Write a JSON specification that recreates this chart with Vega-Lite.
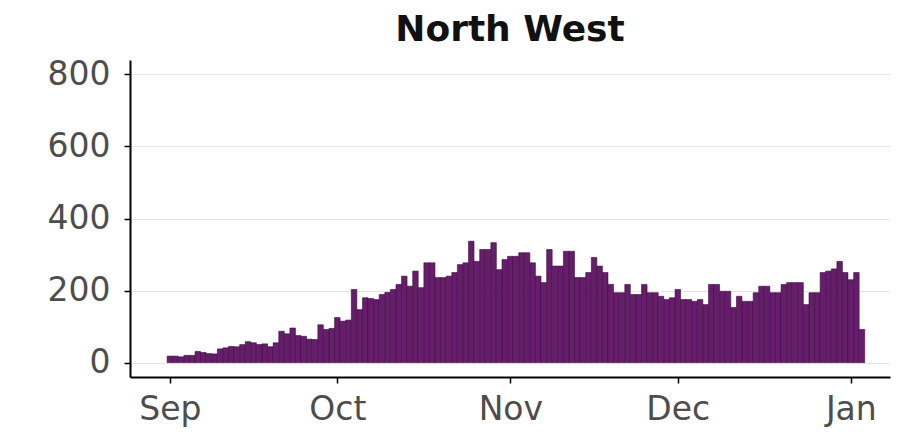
{
  "$schema": "https://vega.github.io/schema/vega-lite/v6.json",
  "width": 760,
  "height": 317,
  "autosize": "none",
  "padding": {"left": 130, "top": 60, "right": 18, "bottom": 57},
  "background": "white",
  "title": {"text": "North West", "font": "DejaVu Sans", "fontSize": 36, "fontWeight": "bold", "color": "#111111", "anchor": "middle", "offset": 9},
  "config": {"view": {"stroke": null}},
  "data": {"values": [
    {"date": "2020-09-01", "cases": 18}, {"date": "2020-09-02", "cases": 18}, {"date": "2020-09-03", "cases": 16}, {"date": "2020-09-04", "cases": 20}, {"date": "2020-09-05", "cases": 20},
    {"date": "2020-09-06", "cases": 31}, {"date": "2020-09-07", "cases": 28}, {"date": "2020-09-08", "cases": 25}, {"date": "2020-09-09", "cases": 24}, {"date": "2020-09-10", "cases": 38},
    {"date": "2020-09-11", "cases": 41}, {"date": "2020-09-12", "cases": 45}, {"date": "2020-09-13", "cases": 44}, {"date": "2020-09-14", "cases": 50}, {"date": "2020-09-15", "cases": 58},
    {"date": "2020-09-16", "cases": 55}, {"date": "2020-09-17", "cases": 50}, {"date": "2020-09-18", "cases": 52}, {"date": "2020-09-19", "cases": 44}, {"date": "2020-09-20", "cases": 55},
    {"date": "2020-09-21", "cases": 87}, {"date": "2020-09-22", "cases": 80}, {"date": "2020-09-23", "cases": 96}, {"date": "2020-09-24", "cases": 75}, {"date": "2020-09-25", "cases": 73},
    {"date": "2020-09-26", "cases": 65}, {"date": "2020-09-27", "cases": 64}, {"date": "2020-09-28", "cases": 105}, {"date": "2020-09-29", "cases": 92}, {"date": "2020-09-30", "cases": 95},
    {"date": "2020-10-01", "cases": 125}, {"date": "2020-10-02", "cases": 115}, {"date": "2020-10-03", "cases": 118}, {"date": "2020-10-04", "cases": 203}, {"date": "2020-10-05", "cases": 147},
    {"date": "2020-10-06", "cases": 180}, {"date": "2020-10-07", "cases": 178}, {"date": "2020-10-08", "cases": 175}, {"date": "2020-10-09", "cases": 189}, {"date": "2020-10-10", "cases": 195},
    {"date": "2020-10-11", "cases": 203}, {"date": "2020-10-12", "cases": 217}, {"date": "2020-10-13", "cases": 240}, {"date": "2020-10-14", "cases": 212}, {"date": "2020-10-15", "cases": 254},
    {"date": "2020-10-16", "cases": 208}, {"date": "2020-10-17", "cases": 277}, {"date": "2020-10-18", "cases": 277}, {"date": "2020-10-19", "cases": 236}, {"date": "2020-10-20", "cases": 236},
    {"date": "2020-10-21", "cases": 240}, {"date": "2020-10-22", "cases": 250}, {"date": "2020-10-23", "cases": 272}, {"date": "2020-10-24", "cases": 277}, {"date": "2020-10-25", "cases": 337},
    {"date": "2020-10-26", "cases": 281}, {"date": "2020-10-27", "cases": 314}, {"date": "2020-10-28", "cases": 314}, {"date": "2020-10-29", "cases": 333}, {"date": "2020-10-30", "cases": 258},
    {"date": "2020-10-31", "cases": 286}, {"date": "2020-11-01", "cases": 295}, {"date": "2020-11-02", "cases": 295}, {"date": "2020-11-03", "cases": 305}, {"date": "2020-11-04", "cases": 305},
    {"date": "2020-11-05", "cases": 277}, {"date": "2020-11-06", "cases": 240}, {"date": "2020-11-07", "cases": 222}, {"date": "2020-11-08", "cases": 314}, {"date": "2020-11-09", "cases": 268},
    {"date": "2020-11-10", "cases": 268}, {"date": "2020-11-11", "cases": 309}, {"date": "2020-11-12", "cases": 309}, {"date": "2020-11-13", "cases": 236}, {"date": "2020-11-14", "cases": 236},
    {"date": "2020-11-15", "cases": 250}, {"date": "2020-11-16", "cases": 292}, {"date": "2020-11-17", "cases": 268}, {"date": "2020-11-18", "cases": 250}, {"date": "2020-11-19", "cases": 217},
    {"date": "2020-11-20", "cases": 194}, {"date": "2020-11-21", "cases": 194}, {"date": "2020-11-22", "cases": 217}, {"date": "2020-11-23", "cases": 189}, {"date": "2020-11-24", "cases": 189},
    {"date": "2020-11-25", "cases": 217}, {"date": "2020-11-26", "cases": 194}, {"date": "2020-11-27", "cases": 194}, {"date": "2020-11-28", "cases": 184}, {"date": "2020-11-29", "cases": 175},
    {"date": "2020-11-30", "cases": 180}, {"date": "2020-12-01", "cases": 203}, {"date": "2020-12-02", "cases": 175}, {"date": "2020-12-03", "cases": 175}, {"date": "2020-12-04", "cases": 170},
    {"date": "2020-12-05", "cases": 175}, {"date": "2020-12-06", "cases": 161}, {"date": "2020-12-07", "cases": 217}, {"date": "2020-12-08", "cases": 217}, {"date": "2020-12-09", "cases": 198},
    {"date": "2020-12-10", "cases": 198}, {"date": "2020-12-11", "cases": 153}, {"date": "2020-12-12", "cases": 184}, {"date": "2020-12-13", "cases": 170}, {"date": "2020-12-14", "cases": 170},
    {"date": "2020-12-15", "cases": 194}, {"date": "2020-12-16", "cases": 212}, {"date": "2020-12-17", "cases": 212}, {"date": "2020-12-18", "cases": 194}, {"date": "2020-12-19", "cases": 194},
    {"date": "2020-12-20", "cases": 217}, {"date": "2020-12-21", "cases": 222}, {"date": "2020-12-22", "cases": 222}, {"date": "2020-12-23", "cases": 222}, {"date": "2020-12-24", "cases": 161},
    {"date": "2020-12-25", "cases": 194}, {"date": "2020-12-26", "cases": 194}, {"date": "2020-12-27", "cases": 250}, {"date": "2020-12-28", "cases": 254}, {"date": "2020-12-29", "cases": 260},
    {"date": "2020-12-30", "cases": 281}, {"date": "2020-12-31", "cases": 250}, {"date": "2021-01-01", "cases": 230}, {"date": "2021-01-02", "cases": 250}, {"date": "2021-01-03", "cases": 92}
  ]},
  "mark": {"type": "bar", "width": 5.5, "fill": "#661d6b", "stroke": "#3a0c3c", "strokeWidth": 0.6},
  "encoding": {
    "x": {
      "field": "date", "type": "temporal",
      "scale": {"type": "utc", "domain": [
        {"year": 2020, "month": 8, "date": 25, "hours": 18, "utc": true},
        {"year": 2021, "month": 1, "date": 7, "hours": 3, "utc": true}
      ]},
      "axis": {
        "title": null,
        "values": [
          {"year": 2020, "month": 9, "date": 1, "utc": true},
          {"year": 2020, "month": 10, "date": 1, "utc": true},
          {"year": 2020, "month": 11, "date": 1, "utc": true},
          {"year": 2020, "month": 12, "date": 1, "utc": true},
          {"year": 2021, "month": 1, "date": 1, "utc": true}
        ],
        "labelExpr": "utcFormat(datum.value, '%b')",
        "grid": false,
        "domainColor": "#000000", "domainWidth": 2,
        "tickColor": "#000000", "tickWidth": 1.5, "tickSize": 6,
        "labelFont": "DejaVu Sans", "labelFontSize": 33, "labelColor": "#4d4d4d", "labelPadding": 10
      }
    },
    "y": {
      "field": "cases", "type": "quantitative",
      "scale": {"domain": [-40, 840], "nice": false, "zero": false},
      "axis": {
        "title": null,
        "values": [0, 200, 400, 600, 800],
        "grid": true, "gridColor": "#e6e6e6", "gridWidth": 1.2,
        "domainColor": "#000000", "domainWidth": 2,
        "tickColor": "#000000", "tickWidth": 1.5, "tickSize": 6,
        "labelFont": "DejaVu Sans", "labelFontSize": 33, "labelColor": "#4d4d4d", "labelPadding": 14
      }
    }
  }
}
